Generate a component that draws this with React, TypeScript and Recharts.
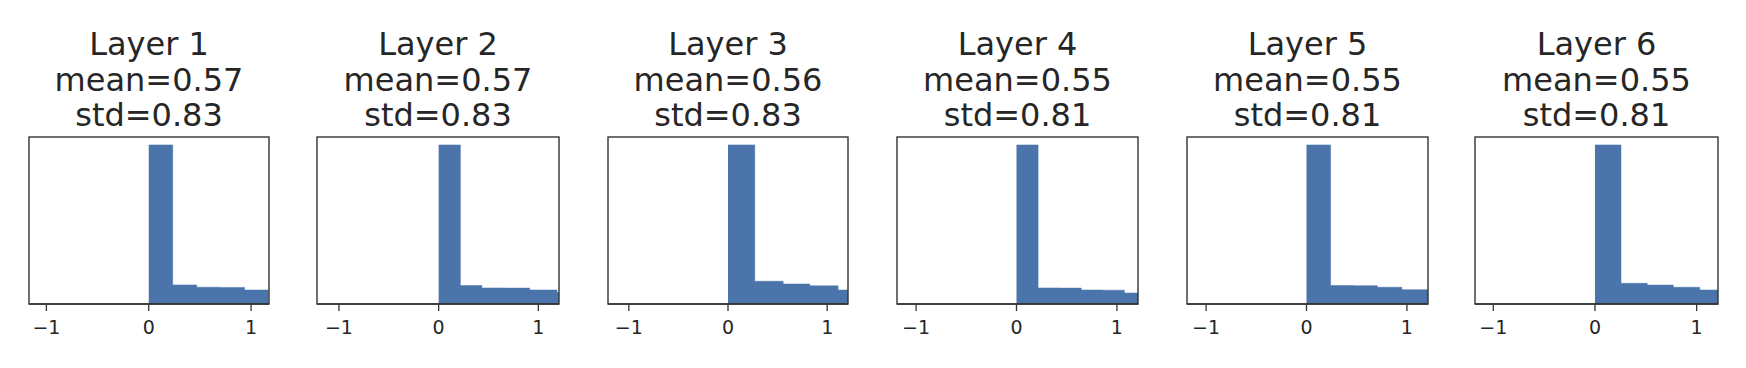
import React from "react";
import { ComposedChart, Area, XAxis, YAxis } from "recharts";

// ---- data ----
const layerNames = ["Layer 1", "Layer 2", "Layer 3", "Layer 4", "Layer 5", "Layer 6"];
const layerMeans = ["0.57", "0.57", "0.56", "0.55", "0.55", "0.55"];
const layerStds = ["0.83", "0.83", "0.83", "0.81", "0.81", "0.81"];

// bin edges (x) and bin heights (relative counts, tallest = 100)
const layer1Edges = [0, 0.234, 0.468, 0.702, 0.936, 1.17];
const layer1Counts = [100, 12.0, 10.6, 10.4, 8.8];
const layer2Edges = [0, 0.218, 0.434, 0.674, 0.913, 1.187, 1.42];
const layer2Counts = [100, 11.6, 10.1, 10.0, 8.8, 7.3];
const layer3Edges = [0, 0.27, 0.556, 0.825, 1.11, 1.39];
const layer3Counts = [100, 14.3, 12.6, 11.4, 8.8];
const layer4Edges = [0, 0.215, 0.43, 0.645, 0.86, 1.075, 1.29];
const layer4Counts = [100, 10.1, 10.0, 8.8, 8.7, 6.9];
const layer5Edges = [0, 0.24, 0.473, 0.706, 0.95, 1.19, 1.43];
const layer5Counts = [100, 11.6, 11.5, 10.5, 9.0, 8.9];
const layer6Edges = [0, 0.256, 0.514, 0.77, 1.03, 1.29];
const layer6Counts = [100, 13.0, 11.9, 10.5, 8.8];

const layerEdges = [layer1Edges, layer2Edges, layer3Edges, layer4Edges, layer5Edges, layer6Edges];
const layerCounts = [layer1Counts, layer2Counts, layer3Counts, layer4Counts, layer5Counts, layer6Counts];

// x-axis limits of each panel
const xLimLow = [-1.17, -1.22, -1.21, -1.19, -1.19, -1.18];
const xLimHigh = [1.175, 1.207, 1.21, 1.21, 1.21, 1.21];
const xTicks = [-1, 0, 1];
const yMax = 105;

// ---- layout ----
const frameLeft = [29, 317, 608, 897, 1187, 1475];
const frameRight = [269, 559, 848, 1138, 1428, 1718];
const FRAME_TOP = 137;
const FRAME_BOTTOM = 304;
const H = 368;
const PAD = 12;

const BAR = "#4A74AA";
const AXIS = "#333333";
const TEXT = "#262626";
const FONT = "'DejaVu Sans', sans-serif";

function makeData(edges: number[], counts: number[]) {
  return edges.map((e, i) => ({ x: e, y: counts[Math.min(i, counts.length - 1)] }));
}

const fmt = (v: number) => (v < 0 ? "\u2212" + Math.abs(v) : String(v));

function Panel({ i }: { i: number }) {
  const w = frameRight[i] - frameLeft[i] + PAD * 2;
  const data = makeData(layerEdges[i], layerCounts[i]);
  return (
    <div style={{ position: "absolute", left: frameLeft[i] - PAD, top: 0 }}>
      <ComposedChart
        width={w}
        height={H}
        data={data}
        margin={{ top: FRAME_TOP, right: PAD, bottom: 0, left: PAD }}
      >
        <XAxis
          dataKey="x"
          type="number"
          domain={[xLimLow[i], xLimHigh[i]]}
          allowDataOverflow
          ticks={xTicks}
          tickFormatter={fmt}
          height={H - FRAME_BOTTOM}
          tickSize={7}
          tickMargin={10}
          interval={0}
          stroke={AXIS}
          axisLine={{ stroke: AXIS, strokeWidth: 1.4 }}
          tickLine={{ stroke: AXIS, strokeWidth: 1.3 }}
          tick={{ fill: TEXT, fontSize: 19, fontFamily: FONT }}
        />
        <YAxis type="number" domain={[0, yMax]} allowDataOverflow hide />
        <Area
          type="stepAfter"
          dataKey="y"
          stroke={BAR}
          strokeWidth={0.5}
          fill={BAR}
          fillOpacity={1}
          isAnimationActive={false}
          dot={false}
          activeDot={false}
        />
      </ComposedChart>
    </div>
  );
}

export default function App() {
  return (
    <div
      style={{
        position: "absolute",
        left: 0,
        top: 0,
        width: 1746,
        height: H,
        background: "#ffffff",
        overflow: "hidden",
      }}
    >
      {layerNames.map((_, i) => (
        <Panel key={i} i={i} />
      ))}
      <svg
        width={1746}
        height={H}
        style={{ position: "absolute", left: 0, top: 0, pointerEvents: "none" }}
      >
        {layerNames.map((name, i) => {
          const cx = (frameLeft[i] + frameRight[i]) / 2;
          return (
            <g key={i}>
              <rect
                x={frameLeft[i]}
                y={FRAME_TOP}
                width={frameRight[i] - frameLeft[i]}
                height={FRAME_BOTTOM - FRAME_TOP}
                fill="none"
                stroke={AXIS}
                strokeWidth={1.4}
              />
              <g fill={TEXT} fontFamily={FONT} fontSize={32} textAnchor="middle">
                <text x={cx} y={55}>{name}</text>
                <text x={cx} y={91}>{"mean=" + layerMeans[i]}</text>
                <text x={cx} y={126}>{"std=" + layerStds[i]}</text>
              </g>
            </g>
          );
        })}
      </svg>
    </div>
  );
}
